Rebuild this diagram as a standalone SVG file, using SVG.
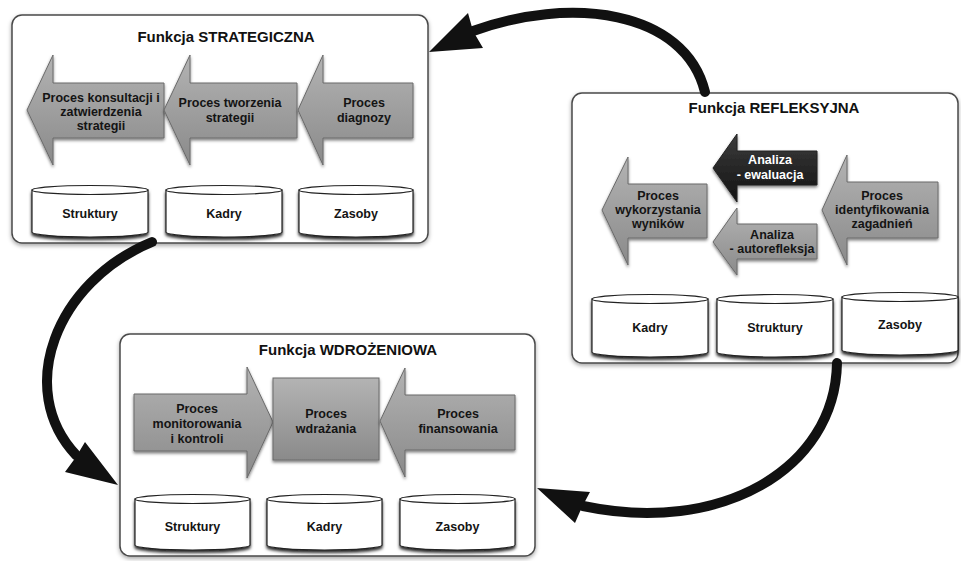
<svg xmlns="http://www.w3.org/2000/svg" width="961" height="561" viewBox="0 0 961 561">
  <defs>
    <linearGradient id="gray" x1="0" y1="0" x2="0" y2="1">
      <stop offset="0" stop-color="#b3b3b3"/>
      <stop offset="1" stop-color="#8a8a8a"/>
    </linearGradient>
    <linearGradient id="dark" x1="0" y1="0" x2="0" y2="1">
      <stop offset="0" stop-color="#3c3c3c"/>
      <stop offset="1" stop-color="#121212"/>
    </linearGradient>
    <filter id="boxShadow" x="-5%" y="-5%" width="110%" height="115%">
      <feDropShadow dx="0" dy="2" stdDeviation="2" flood-color="#000" flood-opacity="0.35"/>
    </filter>
    <filter id="procShadow" x="-10%" y="-10%" width="120%" height="130%">
      <feDropShadow dx="0" dy="2" stdDeviation="1.5" flood-color="#000" flood-opacity="0.5"/>
    </filter>
    <filter id="cylShadow" x="-10%" y="-10%" width="120%" height="140%">
      <feDropShadow dx="0" dy="2.5" stdDeviation="1.5" flood-color="#000" flood-opacity="0.85"/>
    </filter>
  </defs>
  <style>
    .frame { fill: #fff; stroke: #4a4a4a; stroke-width: 1.5; filter: url(#boxShadow); }
    .title { font-family: "Liberation Sans", Arial, sans-serif; font-weight: bold; font-size: 15px; fill: #111; text-anchor: middle; }
    .proc { fill: url(#gray); stroke: #6a6a6a; stroke-width: 1; filter: url(#procShadow); }
    .procDark { fill: url(#dark); stroke: #222; stroke-width: 1; filter: url(#procShadow); }
    .lbl { font-family: "Liberation Sans", Arial, sans-serif; font-weight: bold; font-size: 12.5px; fill: #141414; text-anchor: middle; }
    .lblW { fill: #fff; }
    .cyl { fill: #fff; stroke: #222; stroke-width: 1.2; filter: url(#cylShadow); }
    .cylTop { fill: #fff; stroke: #222; stroke-width: 1.2; }
    .flow { fill: none; stroke: #111; stroke-width: 10; stroke-linecap: round; }
    .head { fill: #111; }
  </style>

  <!-- Strategic function -->
  <g id="strategiczna">
    <rect class="frame" x="12" y="15" width="416" height="228" rx="10"/>
    <text class="title" x="226" y="42">Funkcja STRATEGICZNA</text>
    <g id="s-konsultacja">
      <polygon class="proc" points="27,110 53,55 53,83 164,83 164,138 53,138 53,165"/>
      <text class="lbl" x="101" y="102">Proces konsultacji i</text>
      <text class="lbl" x="101" y="116">zatwierdzenia</text>
      <text class="lbl" x="101" y="130">strategii</text>
    </g>
    <g id="s-tworzenie">
      <polygon class="proc" points="164,110 190,55 190,83 297,83 297,138 190,138 190,165"/>
      <text class="lbl" x="230" y="107">Proces tworzenia</text>
      <text class="lbl" x="230" y="122">strategii</text>
    </g>
    <g id="s-diagnoza">
      <polygon class="proc" points="298,110 323,55 323,83 413,83 413,138 323,138 323,165"/>
      <text class="lbl" x="364" y="107">Proces</text>
      <text class="lbl" x="364" y="122">diagnozy</text>
    </g>
    <g id="s-struktury">
      <path class="cyl" d="M32 190 V232 A58 5 0 0 0 148 232 V190 Z"/>
      <ellipse class="cylTop" cx="90" cy="190" rx="58" ry="4.5"/>
      <text class="lbl" x="90" y="218">Struktury</text>
    </g>
    <g id="s-kadry">
      <path class="cyl" d="M166 190 V232 A58 5 0 0 0 282 232 V190 Z"/>
      <ellipse class="cylTop" cx="224" cy="190" rx="58" ry="4.5"/>
      <text class="lbl" x="224" y="218">Kadry</text>
    </g>
    <g id="s-zasoby">
      <path class="cyl" d="M299 190 V232 A57 5 0 0 0 413 232 V190 Z"/>
      <ellipse class="cylTop" cx="356" cy="190" rx="57" ry="4.5"/>
      <text class="lbl" x="356" y="218">Zasoby</text>
    </g>
  </g>

  <!-- Reflective function -->
  <g id="refleksyjna">
    <rect class="frame" x="572" y="93" width="386" height="270" rx="10"/>
    <text class="title" x="774" y="113">Funkcja REFLEKSYJNA</text>
    <g id="r-wykorzystanie">
      <polygon class="proc" points="602,210 628,157 628,184 707,184 707,238 628,238 628,265"/>
      <text class="lbl" x="658" y="200">Proces</text>
      <text class="lbl" x="658" y="214">wykorzystania</text>
      <text class="lbl" x="658" y="228">wyników</text>
    </g>
    <g id="r-ewaluacja">
      <polygon class="procDark" points="713,168 737,134 737,151 817,151 817,185 737,185 737,202"/>
      <text class="lbl lblW" x="770" y="164">Analiza</text>
      <text class="lbl lblW" x="770" y="179">- ewaluacja</text>
    </g>
    <g id="r-autorefleksja">
      <polygon class="proc" points="713,242 737,208 737,224 817,224 817,259 737,259 737,275"/>
      <text class="lbl" x="772" y="239">Analiza</text>
      <text class="lbl" x="772" y="253">- autorefleksja</text>
    </g>
    <g id="r-identyfikacja">
      <polygon class="proc" points="822,210 847,155 847,182 938,182 938,238 847,238 847,265"/>
      <text class="lbl" x="882" y="200">Proces</text>
      <text class="lbl" x="882" y="214">identyfikowania</text>
      <text class="lbl" x="882" y="228">zagadnień</text>
    </g>
    <g id="r-kadry">
      <path class="cyl" d="M592 299 V352 A58 5 0 0 0 708 352 V299 Z"/>
      <ellipse class="cylTop" cx="650" cy="299" rx="58" ry="4.5"/>
      <text class="lbl" x="650" y="332">Kadry</text>
    </g>
    <g id="r-struktury">
      <path class="cyl" d="M717 299 V352 A58 5 0 0 0 833 352 V299 Z"/>
      <ellipse class="cylTop" cx="775" cy="299" rx="58" ry="4.5"/>
      <text class="lbl" x="775" y="332">Struktury</text>
    </g>
    <g id="r-zasoby">
      <path class="cyl" d="M842 297 V350 A58 5 0 0 0 958 350 V297 Z"/>
      <ellipse class="cylTop" cx="900" cy="297" rx="58" ry="4.5"/>
      <text class="lbl" x="900" y="329">Zasoby</text>
    </g>
  </g>

  <!-- Implementation function -->
  <g id="wdrozeniowa">
    <rect class="frame" x="120" y="334" width="415" height="222" rx="10"/>
    <text class="title" x="348" y="355">Funkcja WDROŻENIOWA</text>
    <g id="w-monitorowanie">
      <polygon class="proc" points="134,394 247,394 247,367 273,422 247,478 247,451 134,451"/>
      <text class="lbl" x="197" y="413">Proces</text>
      <text class="lbl" x="197" y="428">monitorowania</text>
      <text class="lbl" x="197" y="443">i kontroli</text>
    </g>
    <g id="w-wdrazanie">
      <rect class="proc" x="273" y="378" width="106" height="82"/>
      <text class="lbl" x="326" y="418">Proces</text>
      <text class="lbl" x="326" y="433">wdrażania</text>
    </g>
    <g id="w-finansowanie">
      <polygon class="proc" points="380,421 405,368 405,395 515,395 515,450 405,450 405,477"/>
      <text class="lbl" x="458" y="418">Proces</text>
      <text class="lbl" x="458" y="433">finansowania</text>
    </g>
    <g id="w-struktury">
      <path class="cyl" d="M135 499 V545 A57.5 5 0 0 0 250 545 V499 Z"/>
      <ellipse class="cylTop" cx="192.5" cy="499" rx="57.5" ry="4.5"/>
      <text class="lbl" x="192.5" y="531">Struktury</text>
    </g>
    <g id="w-kadry">
      <path class="cyl" d="M267 499 V545 A57.5 5 0 0 0 382 545 V499 Z"/>
      <ellipse class="cylTop" cx="324.5" cy="499" rx="57.5" ry="4.5"/>
      <text class="lbl" x="324.5" y="531">Kadry</text>
    </g>
    <g id="w-zasoby">
      <path class="cyl" d="M400 499 V545 A57.5 5 0 0 0 515 545 V499 Z"/>
      <ellipse class="cylTop" cx="457.5" cy="499" rx="57.5" ry="4.5"/>
      <text class="lbl" x="457.5" y="531">Zasoby</text>
    </g>
  </g>

  <!-- Cycle connectors -->
  <g id="connectors">
    <path class="flow" d="M705 92 C685 10, 570 -5, 470 32"/>
    <polygon class="head" points="429,52 468,13 473,31 483,48"/>
    <path class="flow" d="M152 242 C55 282, 15 390, 76 455"/>
    <polygon class="head" points="118,485 85,442 76,457 65,472"/>
    <path class="flow" d="M837 363 C835 470, 720 535, 583 506"/>
    <polygon class="head" points="537,488 590,492 582,507 575,523"/>
  </g>
</svg>
